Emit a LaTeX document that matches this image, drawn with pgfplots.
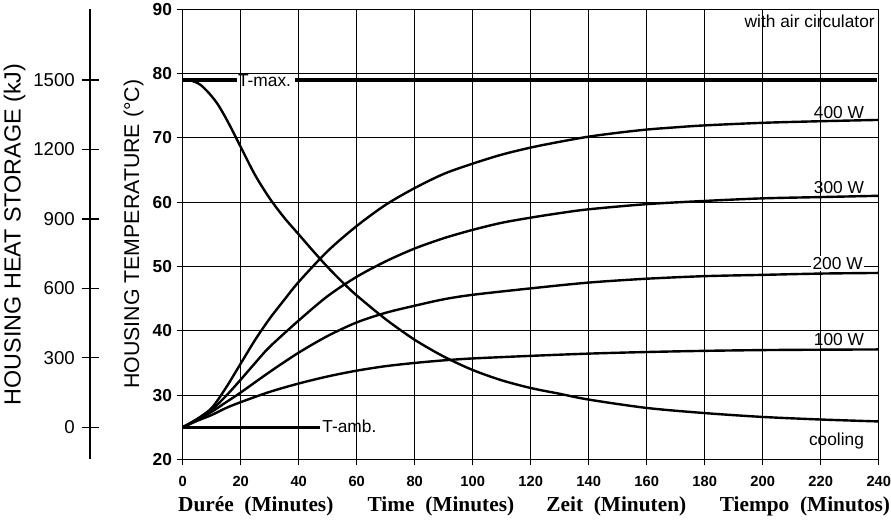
\documentclass[border=0pt]{standalone}
\usepackage{fontspec}
\setmainfont{Liberation Sans}
\newfontfamily\timesfont{Liberation Serif}
\usepackage{pgfplots}
\pgfplotsset{compat=1.18}

\newcommand{\fs}[1]{\fontsize{#1}{#1}\selectfont}

\begin{document}
\begin{tikzpicture}
\useasboundingbox (-137pt,-44.8pt) rectangle (531.2pt,344.5pt);

% heat storage scale (0 kJ = 25 C, 1500 kJ = 79 C)
\begin{axis}[
    at={(-69.5pt,0pt)}, anchor=south west,
    scale only axis, width=1pt, height=337.5pt,
    xmin=0, xmax=1, ymin=-138.9, ymax=1805.6,
    hide x axis,
    axis y line=left,
    axis line style={-, line width=0.9pt},
    ytick={0,300,900,600,1200,1500},
    tick align=center, major tick length=12.75pt,
    tick style={black, line width=0.9pt},
    yticklabel style={font=\fs{14}, xshift=-1.5pt},
    /pgf/number format/assume math mode=true,
    /pgf/number format/1000 sep={},
    ylabel={HOUSING HEAT STORAGE (kJ)},
    ylabel style={font=\fs{17.5}},
    ylabel shift=-1pt,
]
\addplot[draw=none] coordinates {(0,0)};
\end{axis}

\begin{axis}[
    at={(0pt,0pt)}, anchor=south west,
    scale only axis, width=522pt, height=337.5pt,
    xmin=0, xmax=240, ymin=20, ymax=90,
    xtick={0,20,...,240}, ytick={20,30,...,90},
    xtick pos=left, ytick pos=left,
    grid=major, major grid style={black, line width=0.7pt},
    axis line style={line width=0.9pt},
    tick align=outside, major tick length=4.5pt,
    tick style={black, line width=0.8pt},
    xticklabel style={font=\bfseries\fs{11}, yshift=-5pt},
    yticklabel style={font=\bfseries\fs{13}},
    /pgf/number format/assume math mode=true,
    ylabel={HOUSING TEMPERATURE (°C)},
    ylabel style={font=\fs{16}},
    ylabel shift=0pt,
    clip mode=individual,
]
% T-max and T-amb reference lines
\addplot[black, line width=2.4pt] coordinates {(0,79) (18.6,79)};
\addplot[black, line width=2.4pt] coordinates {(38.9,79) (239.5,79)};
\addplot[black, line width=2.4pt] coordinates {(0,25) (47.3,25)};

% heating, 400 W
\addplot[black, line width=1.8pt, smooth] coordinates {
 (0,25) (5,26.3) (10,28.0) (15,31.2) (20,34.9) (25,38.6) (30,41.9) (35,44.8)
 (40,47.6) (50,52.4) (60,56.3) (70,59.6) (80,62.2) (90,64.4) (100,66.0)
 (110,67.4) (120,68.5) (130,69.4) (140,70.2) (150,70.8) (160,71.3)
 (170,71.65) (180,71.95) (200,72.35) (220,72.6) (240,72.8)};
% 300 W
\addplot[black, line width=1.8pt, smooth] coordinates {
 (0,25) (5,26.2) (10,27.7) (15,29.9) (20,32.4) (25,35.0) (30,37.5) (40,41.6)
 (50,45.4) (60,48.4) (70,50.8) (80,52.8) (90,54.4) (100,55.7) (110,56.8)
 (120,57.6) (130,58.3) (140,58.9) (160,59.7) (180,60.2) (200,60.6)
 (220,60.8) (240,61.0)};
% 200 W
\addplot[black, line width=1.8pt, smooth] coordinates {
 (0,25) (5,26.1) (10,27.4) (15,28.9) (20,30.4) (30,33.6) (40,36.6) (50,39.2)
 (60,41.3) (70,42.8) (80,43.9) (90,44.9) (100,45.6) (120,46.6) (140,47.5)
 (160,48.1) (180,48.5) (200,48.7) (220,48.9) (240,49.0)};
% 100 W
\addplot[black, line width=1.8pt, smooth] coordinates {
 (0,25) (5,26.0) (10,26.9) (15,28.0) (20,28.9) (30,30.5) (40,31.8) (50,32.9)
 (60,33.8) (70,34.5) (80,35.0) (90,35.4) (100,35.7) (120,36.1) (140,36.45)
 (160,36.7) (180,36.88) (200,37.0) (220,37.06) (240,37.1)};
% cooling
\addplot[black, line width=1.8pt, smooth] coordinates {
 (0,79) (3,78.9) (6,78.3) (9,77.0) (12,75.3) (15,73.0) (18,70.4) (20,68.6)
 (25,64.2) (30,60.6) (35,57.6) (40,55.0) (45,52.4) (50,49.9) (55,47.6)
 (60,45.5) (70,41.8) (80,38.6) (90,36.0) (100,33.9) (110,32.3) (120,31.1)
 (130,30.2) (140,29.3) (160,28.0) (180,27.2) (200,26.6) (220,26.2) (240,25.9)};

\node[anchor=base west, inner sep=0pt, font=\fs{13}] at (axis cs:19.0,78.0) {T-max.};
\node[anchor=base west, inner sep=0pt, font=\fs{13}] at (axis cs:48.1,24.2) {T-amb.};
\node[anchor=base east, inner sep=0pt, font=\fs{13}] at (axis cs:238.7,87.2) {with air circulator};
\node[anchor=base east, inner sep=0pt, font=\fs{13}] at (axis cs:235,73.0) {400 W};
\node[anchor=base east, inner sep=0pt, font=\fs{13}] at (axis cs:235,61.3) {300 W};
\node[anchor=base east, inner sep=1pt, fill=white, font=\fs{13}] at (axis cs:235,49.55) {200 W};
\node[anchor=base east, inner sep=0pt, font=\fs{13}] at (axis cs:235,37.7) {100 W};
\node[anchor=base east, inner sep=0pt, font=\fs{13}] at (axis cs:235,22.2) {cooling};

\node[anchor=base, font=\timesfont\bfseries\fs{16}] at ([yshift=-39pt]rel axis cs:0.105,0) {Durée~ (Minutes)};
\node[anchor=base, font=\timesfont\bfseries\fs{16}] at ([yshift=-39pt]rel axis cs:0.371,0) {Time~ (Minutes)};
\node[anchor=base, font=\timesfont\bfseries\fs{16}] at ([yshift=-39pt]rel axis cs:0.623,0) {Zeit~ (Minuten)};
\node[anchor=base, font=\timesfont\bfseries\fs{16}] at ([yshift=-39pt]rel axis cs:0.894,0) {Tiempo~ (Minutos)};
\end{axis}
\end{tikzpicture}
\end{document}
